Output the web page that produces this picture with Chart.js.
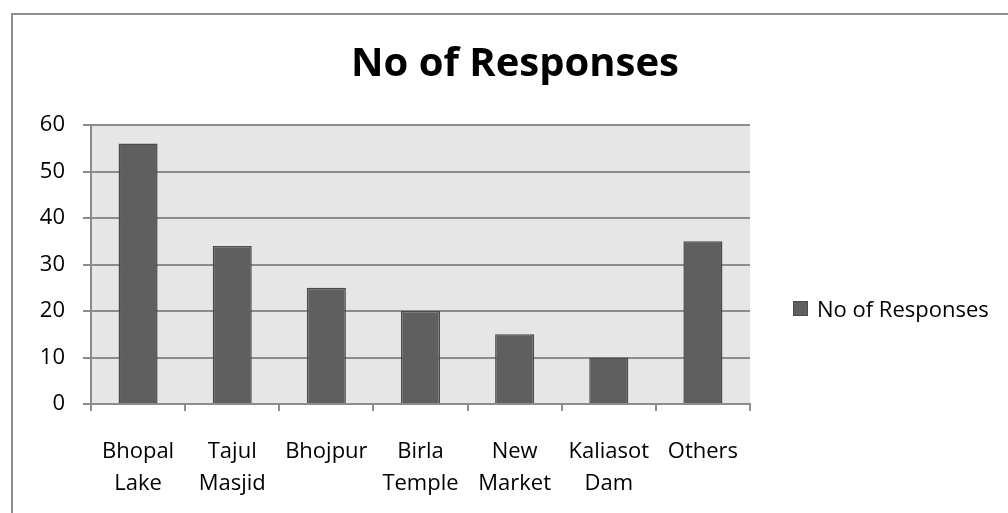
<!DOCTYPE html>
<html>
<head>
<meta charset="utf-8">
<script src="https://cdn.jsdelivr.net/npm/chart.js@4/dist/chart.umd.min.js"></script>
<style>
  html, body { margin: 0; padding: 0; width: 1008px; height: 513px; overflow: hidden; background: #fff; }
  #frame { position: absolute; left: 11px; top: 13px; width: 1006px; height: 600px; border: 2px solid #8e8e8e; box-sizing: border-box; }
  #wrap { position: absolute; left: 0; top: 0; width: 1030px; height: 513px; }
</style>
</head>
<body>
<div id="frame"></div>
<div id="wrap"><canvas id="chart" width="1030" height="513"></canvas></div>
<script>
// Tourist spots and how many people named each one
const categories = [
  ['Bhopal', 'Lake'],
  ['Tajul', 'Masjid'],
  ['Bhojpur'],
  ['Birla', 'Temple'],
  ['New', 'Market'],
  ['Kaliasot', 'Dam'],
  ['Others']
];
const responses = [56, 34, 25, 20, 15, 10, 35];
const seriesName = 'No of Responses';
const yTicks = [0, 10, 20, 30, 40, 50, 60];

const FONT = '"Open Sans", Lato, sans-serif';
const GRID = '#8c8c8c';
const BAR_FILL = '#5f5f5f';
const BAR_EDGE = '#4b4b4b';

// Grey plot background behind the bars
const plotBackground = {
  id: 'plotBackground',
  beforeDraw(chart) {
    const { ctx, chartArea: a } = chart;
    ctx.save();
    ctx.fillStyle = '#e6e6e6';
    ctx.fillRect(a.left, a.top, a.right - a.left, a.bottom - a.top);
    ctx.restore();
  }
};

// Single-entry legend to the right of the plot
const sideLegend = {
  id: 'sideLegend',
  afterDraw(chart) {
    const { ctx } = chart;
    const ds = chart.data.datasets[0];
    const x = 793, y = 301, s = 15;
    ctx.save();
    ctx.fillStyle = ds.backgroundColor;
    ctx.fillRect(x, y, s, s);
    ctx.strokeStyle = ds.borderColor;
    ctx.lineWidth = 1;
    ctx.strokeRect(x + 0.5, y + 0.5, s - 1, s - 1);
    ctx.fillStyle = '#000';
    ctx.font = '22px ' + FONT;
    ctx.textBaseline = 'alphabetic';
    ctx.fillText(ds.label, 817, 317);
    ctx.restore();
  }
};

new Chart(document.getElementById('chart'), {
  type: 'bar',
  data: {
    labels: categories,
    datasets: [{
      label: seriesName,
      data: responses,
      backgroundColor: BAR_FILL,
      borderColor: BAR_EDGE,
      borderWidth: 1.5,
      barPercentage: 0.415,
      categoryPercentage: 1
    }]
  },
  options: {
    responsive: false,
    animation: false,
    layout: { padding: 0 },
    plugins: {
      legend: { display: false },
      tooltip: { enabled: false },
      title: {
        display: true,
        text: seriesName,
        color: '#000',
        font: { family: FONT, size: 40, weight: 'bold', lineHeight: 1.2 },
        padding: { top: 41, bottom: 36 }
      }
    },
    scales: {
      x: {
        offset: true,
        grid: {
          offset: true,
          drawOnChartArea: false,
          drawTicks: true,
          tickLength: 7,
          color: GRID,
          lineWidth: 2
        },
        border: { display: true, color: GRID, width: 2 },
        ticks: {
          color: '#000',
          padding: 24,
          maxRotation: 0,
          autoSkip: false,
          font: { family: FONT, size: 22, lineHeight: 1.48 }
        },
        afterFit(scale) { scale.height = 109; }
      },
      y: {
        min: 0,
        max: 60,
        afterBuildTicks(scale) { scale.ticks = yTicks.map(v => ({ value: v })); },
        grid: {
          color: GRID,
          lineWidth: 2,
          drawTicks: true,
          tickLength: 8
        },
        border: { display: true, color: GRID, width: 2 },
        ticks: {
          color: '#000',
          padding: 18,
          font: { family: FONT, size: 22 }
        },
        afterFit(scale) { scale.width = 91; }
      },
      // Empty right-hand gutter that holds the legend
      gutter: {
        type: 'linear',
        position: 'right',
        display: true,
        grid: { display: false },
        border: { display: false },
        ticks: { display: false },
        afterFit(scale) { scale.width = 280; }
      }
    }
  },
  plugins: [plotBackground, sideLegend]
});
</script>
</body>
</html>
